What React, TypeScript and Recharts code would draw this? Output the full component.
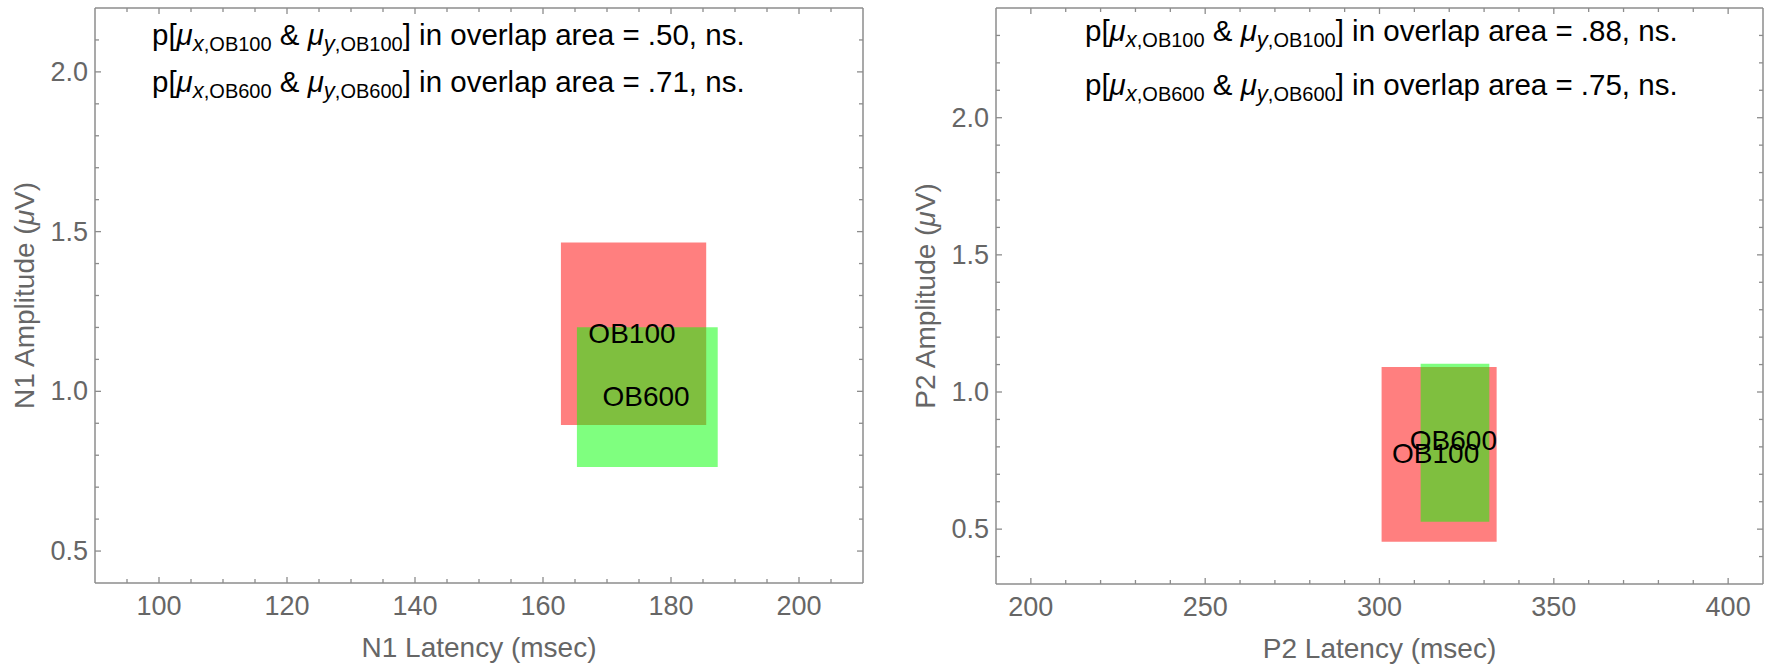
import React from "react";
import { ScatterChart, Scatter, XAxis, YAxis, ReferenceArea } from "recharts";

const FONT = "'Liberation Sans', Arial, sans-serif";
const FRAME = "#8c8c8c";
const INK = "#666666";

// groups shared by both panels
const groups = ["OB100", "OB600"];
const boxColors = ["#ff0000", "#00ff00"];

// N1 panel: confidence boxes and means
const n1LatLow = [162.8, 165.3];
const n1LatHigh = [185.5, 187.3];
const n1AmpLow = [0.895, 0.763];
const n1AmpHigh = [1.466, 1.201];
const n1LatMean = [173.9, 176.1];
const n1AmpMean = [1.18, 0.985];
const n1PValues = [".50", ".71"];

// P2 panel
const p2LatLow = [300.6, 311.8];
const p2LatHigh = [333.6, 331.5];
const p2AmpLow = [0.454, 0.527];
const p2AmpHigh = [1.091, 1.103];
const p2LatMean = [316.1, 321.2];
const p2AmpMean = [0.777, 0.825];
const p2PValues = [".88", ".75"];

// axes
const n1XDomain = [90, 210];
const n1YDomain = [0.4, 2.2];
const n1XTicks = [95, 100, 105, 110, 115, 120, 125, 130, 135, 140, 145, 150, 155, 160, 165, 170, 175, 180, 185, 190, 195, 200, 205];
const n1XMajor = [100, 120, 140, 160, 180, 200];
const n1YTicks = [0.5, 0.6, 0.7, 0.8, 0.9, 1.0, 1.1, 1.2, 1.3, 1.4, 1.5, 1.6, 1.7, 1.8, 1.9, 2.0, 2.1];
const n1YMajor = [0.5, 1.0, 1.5, 2.0];

const p2XDomain = [190, 410];
const p2YDomain = [0.3, 2.4];
const p2XTicks = [200, 210, 220, 230, 240, 250, 260, 270, 280, 290, 300, 310, 320, 330, 340, 350, 360, 370, 380, 390, 400];
const p2XMajor = [200, 250, 300, 350, 400];
const p2YTicks = [0.4, 0.5, 0.6, 0.7, 0.8, 0.9, 1.0, 1.1, 1.2, 1.3, 1.4, 1.5, 1.6, 1.7, 1.8, 1.9, 2.0, 2.1, 2.2, 2.3];
const p2YMajor = [0.5, 1.0, 1.5, 2.0];

const isMajor = (v: number, majors: number[]) =>
	majors.some((m) => Math.abs(m - v) < 1e-6);

const makeTick =
	(side: "bottom" | "top" | "left" | "right", majors: number[], fmt: (v: number) => string) =>
	(props: any) => {
		const { x, y, payload } = props;
		const major = isMajor(payload.value, majors);
		const len = major ? 6 : 4;
		const line = { stroke: FRAME, strokeWidth: 1.3 };
		if (side === "bottom") {
			return (
				<g>
					<line x1={x} x2={x} y1={y} y2={y - len} {...line} />
					{major && (
						<text x={x} y={y + 32} textAnchor="middle" fontSize={27} fill={INK} fontFamily={FONT}>
							{fmt(payload.value)}
						</text>
					)}
				</g>
			);
		}
		if (side === "top") return <line x1={x} x2={x} y1={y} y2={y + len} {...line} />;
		if (side === "right") return <line x1={x} x2={x - len} y1={y} y2={y} {...line} />;
		return (
			<g>
				<line x1={x} x2={x + len} y1={y} y2={y} {...line} />
				{major && (
					<text x={x - 7} y={y} textAnchor="end" dominantBaseline="central" fontSize={27} fill={INK} fontFamily={FONT}>
						{fmt(payload.value)}
					</text>
				)}
			</g>
		);
	};

const AnnotationLine = ({ x, y, group, p }: any) => (
	<text x={x} y={y} fontSize={29.5} fontFamily={FONT} fill="#000">
		<tspan>p[</tspan>
		<tspan fontStyle="italic">μ</tspan>
		<tspan fontStyle="italic" fontSize={22} dy={6}>x</tspan>
		<tspan fontSize={20}>{"," + group}</tspan>
		<tspan dy={-6}>{" & "}</tspan>
		<tspan fontStyle="italic">μ</tspan>
		<tspan fontStyle="italic" fontSize={22} dy={6}>y</tspan>
		<tspan fontSize={20}>{"," + group}</tspan>
		<tspan dy={-6}>{"] in overlap area = " + p + ", ns."}</tspan>
	</text>
);

type PanelProps = {
	left: number;
	leftAxisWidth: number;
	rightMargin: number;
	bottomAxisHeight: number;
	xDomain: number[];
	yDomain: number[];
	xTicks: number[];
	xMajor: number[];
	yTicks: number[];
	yMajor: number[];
	latLow: number[];
	latHigh: number[];
	ampLow: number[];
	ampHigh: number[];
	latMean: number[];
	ampMean: number[];
	pValues: string[];
	xTitle: string;
	yPrefix: string;
	noteDx: number;
	noteDy: number[];
};

const Panel: React.FC<PanelProps> = (p) => {
	const labels = groups.map((g, i) => ({ name: g, x: p.latMean[i], y: p.ampMean[i] }));
	const xFmt = (v: number) => String(v);
	const yFmt = (v: number) => v.toFixed(1);
	return (
		<div style={{ position: "absolute", left: p.left, top: 0 }}>
			<ScatterChart
				width={886}
				height={670}
				margin={{ top: 7, right: p.rightMargin, bottom: 0, left: 0 }}
			>
				<XAxis
					xAxisId={0}
					dataKey="x"
					type="number"
					domain={p.xDomain}
					allowDataOverflow
					ticks={p.xTicks}
					interval={0}
					height={p.bottomAxisHeight}
					tickSize={0}
					tickMargin={0}
					tickLine={false}
					axisLine={{ stroke: FRAME, strokeWidth: 1.5 }}
					tick={makeTick("bottom", p.xMajor, xFmt)}
					label={{
						content: (lp: any) => {
							const vb = lp.viewBox;
							return (
								<text x={vb.x + vb.width / 2} y={vb.y + 74} textAnchor="middle" fontSize={28} fill={INK} fontFamily={FONT}>
									{p.xTitle}
								</text>
							);
						},
					}}
				/>
				<XAxis
					xAxisId="top"
					orientation="top"
					dataKey="x"
					type="number"
					domain={p.xDomain}
					allowDataOverflow
					ticks={p.xTicks}
					interval={0}
					height={1}
					tickSize={0}
					tickMargin={0}
					tickLine={false}
					axisLine={{ stroke: FRAME, strokeWidth: 1.5 }}
					tick={makeTick("top", p.xMajor, xFmt)}
					label={{
						content: (lp: any) => {
							const vb = lp.viewBox;
							return (
								<g>
									{groups.map((g, i) => (
										<AnnotationLine key={g} x={vb.x + p.noteDx} y={vb.y + p.noteDy[i]} group={g} p={p.pValues[i]} />
									))}
								</g>
							);
						},
					}}
				/>
				<YAxis
					yAxisId={0}
					dataKey="y"
					type="number"
					domain={p.yDomain}
					allowDataOverflow
					ticks={p.yTicks}
					interval={0}
					width={p.leftAxisWidth}
					tickSize={0}
					tickMargin={0}
					tickLine={false}
					axisLine={{ stroke: FRAME, strokeWidth: 1.5 }}
					tick={makeTick("left", p.yMajor, yFmt)}
					label={{
						content: (lp: any) => {
							const vb = lp.viewBox;
							const cx = vb.x + vb.width - 71;
							const cy = vb.y + vb.height / 2;
							return (
								<text
									x={cx}
									y={cy}
									transform={`rotate(-90, ${cx}, ${cy})`}
									textAnchor="middle"
									dominantBaseline="central"
									fontSize={28}
									fill={INK}
									fontFamily={FONT}
								>
									{p.yPrefix + " Amplitude ("}
									<tspan fontStyle="italic">μ</tspan>
									{"V)"}
								</text>
							);
						},
					}}
				/>
				<YAxis
					yAxisId="right"
					orientation="right"
					dataKey="y"
					type="number"
					domain={p.yDomain}
					allowDataOverflow
					ticks={p.yTicks}
					interval={0}
					width={1}
					tickSize={0}
					tickMargin={0}
					tickLine={false}
					axisLine={{ stroke: FRAME, strokeWidth: 1.5 }}
					tick={makeTick("right", p.yMajor, yFmt)}
				/>
				{groups.map((g, i) => (
					<ReferenceArea
						key={g}
						xAxisId={0}
						yAxisId={0}
						x1={p.latLow[i]}
						x2={p.latHigh[i]}
						y1={p.ampLow[i]}
						y2={p.ampHigh[i]}
						fill={boxColors[i]}
						fillOpacity={0.5}
						stroke="none"
						ifOverflow="visible"
					/>
				))}
				<Scatter
					xAxisId={0}
					yAxisId={0}
					data={labels}
					isAnimationActive={false}
					shape={(sp: any) => (
						<text
							x={sp.cx}
							y={sp.cy}
							textAnchor="middle"
							dominantBaseline="central"
							fontSize={28}
							fontFamily={FONT}
							fill="#000"
						>
							{sp.payload.name}
						</text>
					)}
				/>
			</ScatterChart>
		</div>
	);
};

const App: React.FC = () => {
	return (
		<div
			style={{
				position: "absolute",
				left: 0,
				top: 0,
				width: 1772,
				height: 670,
				background: "#fff",
			}}
		>
			<Panel
				left={0}
				leftAxisWidth={95}
				rightMargin={22}
				bottomAxisHeight={87}
				xDomain={n1XDomain}
				yDomain={n1YDomain}
				xTicks={n1XTicks}
				xMajor={n1XMajor}
				yTicks={n1YTicks}
				yMajor={n1YMajor}
				latLow={n1LatLow}
				latHigh={n1LatHigh}
				ampLow={n1AmpLow}
				ampHigh={n1AmpHigh}
				latMean={n1LatMean}
				ampMean={n1AmpMean}
				pValues={n1PValues}
				xTitle="N1 Latency (msec)"
				yPrefix="N1"
				noteDx={57}
				noteDy={[38, 85]}
			/>
			<Panel
				left={886}
				leftAxisWidth={110}
				rightMargin={8}
				bottomAxisHeight={86}
				xDomain={p2XDomain}
				yDomain={p2YDomain}
				xTicks={p2XTicks}
				xMajor={p2XMajor}
				yTicks={p2YTicks}
				yMajor={p2YMajor}
				latLow={p2LatLow}
				latHigh={p2LatHigh}
				ampLow={p2AmpLow}
				ampHigh={p2AmpHigh}
				latMean={p2LatMean}
				ampMean={p2AmpMean}
				pValues={p2PValues}
				xTitle="P2 Latency (msec)"
				yPrefix="P2"
				noteDx={89}
				noteDy={[34, 88]}
			/>
		</div>
	);
};

export default App;
